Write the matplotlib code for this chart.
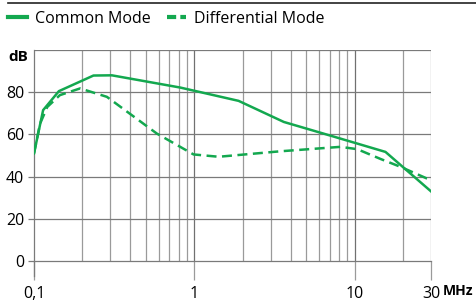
import matplotlib.pyplot as plt
from matplotlib.lines import Line2D

plt.rcParams['font.family'] = ['Open Sans', 'DejaVu Sans']

GREEN = '#13a84f'

# curves
cm_freq = [0.1, 0.114, 0.143, 0.235, 0.306, 0.818, 1.89, 3.62, 6.94, 15.6, 30]
cm_db = [51, 71.5, 80.5, 87.9, 88, 82.2, 75.9, 65.9, 59.6, 51.7, 33]

dm_freq = [0.1, 0.109, 0.121, 0.145, 0.194, 0.285, 0.584, 0.99, 1.42, 3.45, 8.16, 10.4, 14.6, 19.4, 28.3, 30]
dm_db = [51, 65, 73, 78.6, 81.8, 77.8, 60.4, 50.5, 49.4, 52, 54.1, 53, 48.3, 44.6, 39.1, 38.5]

y_ticks = [0, 20, 40, 60, 80]
x_ticks = [0.1, 1, 10, 30]
x_labels = ['0,1', '1', '10', '30']

fig = plt.figure(figsize=(4.77, 3.02), dpi=100)
ax = fig.add_axes([34 / 477, 41 / 302, 397 / 477, 211 / 302])

ax.set_xscale('log')
ax.set_xlim(0.1, 30)
ax.set_ylim(0, 100)

# grid
minor = [m * d for d in (0.1, 1, 10) for m in range(2, 10) if m * d < 30] + [30]
for f in minor:
    ax.axvline(f, color='#9a9a9a', lw=0.9, zorder=1)
for f in (1, 10):
    ax.axvline(f, color='#707070', lw=0.9, zorder=1)
for y in y_ticks[1:] + [100]:
    ax.axhline(y, color='#7a7a7a', lw=0.9, zorder=1)

ax.plot(cm_freq, cm_db, color=GREEN, lw=1.8, zorder=3, solid_joinstyle='round')
ax.plot(dm_freq, dm_db, color=GREEN, lw=1.8, ls=(0, (4, 2.2)), zorder=3)

for s in ('top', 'right'):
    ax.spines[s].set_visible(False)
ax.spines['left'].set_color('#7a7a7a')
ax.spines['bottom'].set_color('#7a7a7a')
ax.spines['left'].set_bounds(-7, 100)
ax.spines['left'].set_linewidth(0.9)
ax.spines['bottom'].set_linewidth(0.9)

ax.set_yticks(y_ticks)
ax.set_yticklabels([str(v) for v in y_ticks])
ax.tick_params(axis='y', length=4, width=0.9, color='#7a7a7a', pad=3, labelsize=11.5)
ax.set_xticks(x_ticks)
ax.set_xticklabels(x_labels)
ax.xaxis.set_minor_locator(plt.NullLocator())
ax.tick_params(axis='x', length=14, width=0.9, color='#9a9a9a', pad=4, labelsize=11.5)

fig.text(8 / 477, 1 - 57 / 302, 'dB', fontsize=11, fontweight='bold', va='center')
fig.text(443 / 477, 1 - 291 / 302, 'MHz', fontsize=10, fontweight='bold', va='center')

# top rule and legend
fig.add_artist(Line2D([8 / 477, 1], [1 - 3 / 302, 1 - 3 / 302], color='#222222', lw=1.2))
handles = [Line2D([], [], color=GREEN, lw=3),
           Line2D([], [], color=GREEN, lw=3, ls=(0, (2.2, 1)))]
fig.legend(handles, ['Common Mode', 'Differential Mode'], loc='upper left',
           bbox_to_anchor=(8 / 477, 1 - 11 / 302), ncol=2, frameon=False, fontsize=11.5,
           handlelength=1.2, handletextpad=0.5, columnspacing=1.0,
           borderpad=0, borderaxespad=0)

fig.savefig('out.png', dpi=100)
